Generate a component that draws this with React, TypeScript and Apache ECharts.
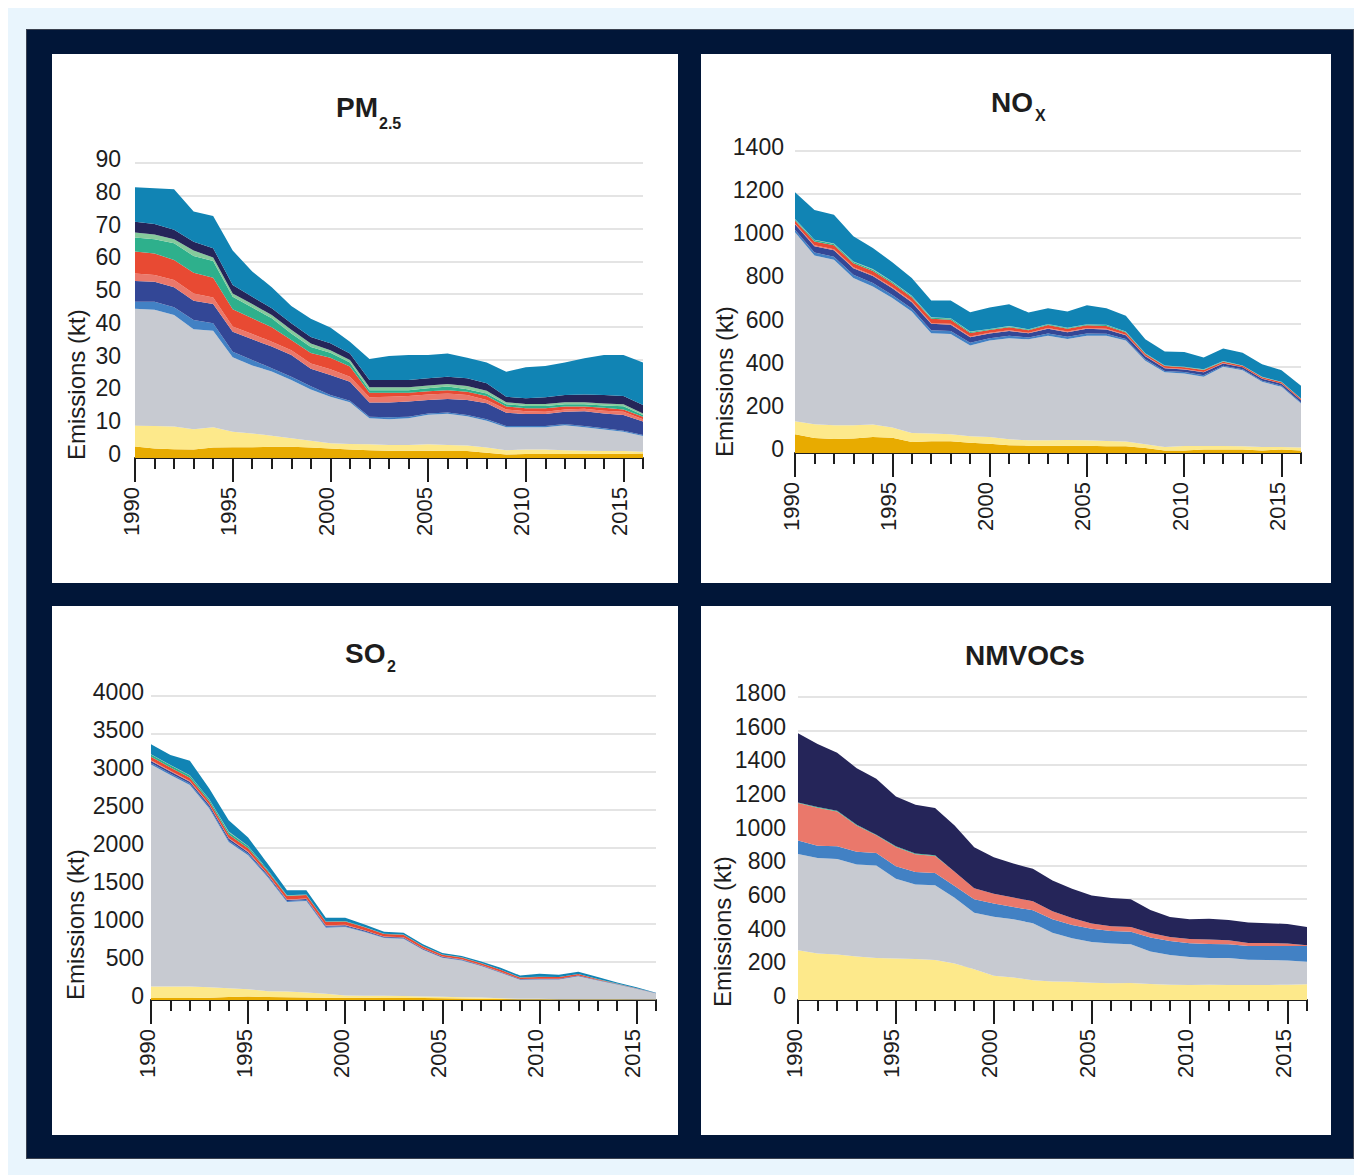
import React, { useEffect, useRef } from "react";
import * as echarts from "echarts";

const years = ["1990","1991","1992","1993","1994","1995","1996","1997","1998","1999","2000","2001","2002","2003","2004","2005","2006","2007","2008","2009","2010","2011","2012","2013","2014","2015","2016"];

const sectorNames = ["Energy production", "Energy use in industry", "Commercial & households", "Non-road transport", "Road transport", "Industrial processes", "Solvents", "Agriculture", "Waste", "Other A", "Other B"];
const sectorColors = ["#e8ab00", "#fde98b", "#c7cad1", "#4281c4", "#334796", "#ea786b", "#e84a33", "#2eb08c", "#86ca9c", "#252559", "#1184b4"];

// PM2.5 (kt)
const pmGold = [3.5,2.9,2.7,2.6,3.2,3.3,3.3,3.4,3.4,3.2,2.9,2.6,2.4,2.2,2.2,2.2,2.1,2.1,1.6,1.1,1.2,1.2,1.2,1.2,1.3,1.3,1.4];
const pmYellow = [6.4,6.9,6.9,6.2,6.2,4.7,4.2,3.4,2.6,2.1,1.6,1.7,1.8,1.8,1.8,2.0,1.9,1.7,1.6,1.3,1.4,1.4,1.2,1.0,0.8,0.8,0.5];
const pmGrey = [35.6,35.4,34.0,30.5,29.4,22.7,20.7,19.6,17.8,15.6,14.2,12.7,7.9,7.8,8.1,9.0,9.5,8.9,8.2,7.0,6.8,6.8,7.6,7.2,6.6,5.9,4.8];
const pmMBlue = [2.2,2.5,2.4,2.8,2.3,1.7,1.7,1.0,1.0,1.0,0.5,0.5,0.5,0.6,0.5,0.4,0.4,0.4,0.4,0.4,0.4,0.4,0.4,0.4,0.4,0.3,0.3];
const pmDBlue = [6.3,6.1,6.1,5.9,5.9,6.1,6.3,6.6,6.6,5.3,6.1,5.8,4.3,4.5,4.6,4.1,4.1,4.6,4.9,4.0,3.6,3.6,3.7,4.5,4.5,4.8,4.1];
const pmSalmon = [2.3,2.0,2.2,2.2,2.0,1.6,1.6,1.5,1.5,1.6,1.8,1.5,1.6,1.8,1.7,1.7,1.7,1.5,1.0,1.0,0.9,0.7,0.7,0.7,0.8,1.0,0.7];
const pmRed = [6.7,6.6,6.1,6.3,6.0,5.3,4.8,4.4,3.1,3.2,3.5,3.1,1.4,1.2,1.0,1.0,1.0,1.0,1.2,0.9,0.9,1.1,0.9,0.7,0.9,0.7,0.8];
const pmTeal = [4.3,4.3,5.1,5.1,5.1,3.8,3.3,2.7,2.0,1.9,1.5,1.2,0.8,0.8,0.8,0.9,1.1,0.8,0.8,0.7,0.7,0.7,0.7,0.7,0.7,1.0,0.5];
const pmLGreen = [1.5,1.5,1.2,1.7,1.1,1.0,1.1,1.0,1.1,1.0,0.8,0.8,0.9,0.9,0.9,0.8,0.8,1.0,0.8,0.6,0.6,0.6,0.6,0.6,0.6,0.6,0.5];
const pmNavy = [3.3,3.2,2.9,2.7,2.8,2.6,2.2,2.1,2.0,2.0,2.1,2.0,2.2,2.2,2.2,2.2,2.2,2.3,2.3,1.7,1.7,2.0,2.2,2.4,2.6,2.5,2.6];
const pmBlue = [10.5,10.9,12.4,9.2,9.8,10.5,7.7,6.4,5.3,5.6,4.8,3.6,6.4,7.3,7.6,7.1,7.1,6.3,6.3,7.6,9.5,9.6,9.9,11.0,12.2,12.5,12.9];

// NOx (kt)
const noxGold = [87,70,65,67,74,71,51,54,54,47,43,36,34,34,34,34,31,31,23,12,12,16,16,16,12,16,12];
const noxYellow = [60,63,64,62,58,47,42,36,33,31,31,28,25,25,26,25,25,22,17,16,21,17,17,15,16,12,13];
const noxGrey = [876,782,767,682,640,600,563,465,465,420,447,468,468,484,469,484,487,468,388,346,336,320,367,353,302,279,204];
const noxMBlue = [12,14,14,15,16,15,14,14,14,13,11,11,9,11,10,11,10,8,7,6,6,7,5,4,5,5,5];
const noxDBlue = [25,30,30,31,32,31,29,30,29,26,22,23,19,22,21,22,20,17,14,13,12,14,10,9,9,9,10];
const noxSalmon = [3,4,4,4,4,4,4,4,4,3,3,3,2,3,3,3,3,2,2,2,2,2,2,1,1,1,1];
const noxRed = [15,18,19,19,20,19,19,19,19,16,13,14,12,14,13,13,13,11,8,8,8,9,6,6,6,6,6];
const noxTeal = [5,6,6,6,6,6,5,5,5,5,4,4,4,4,4,4,4,3,2,2,2,2,2,1,1,1,1];
const noxLGreen = [2,2,2,2,3,2,2,2,2,2,1,2,1,1,1,1,1,1,1,1,1,1,1,1,1,1,1];
const noxNavy = [0,0,0,0,0,0,0,0,0,0,0,0,0,0,0,0,0,0,0,0,0,0,0,0,0,0,0];
const noxBlue = [124,137,134,117,97,89,82,78,82,90,99,101,77,73,75,88,77,73,65,65,68,55,58,59,59,54,59];

// SO2 (kt)
const so2Gold = [25,25,25,30,40,45,38,35,33,30,28,28,27,26,25,23,20,17,12,6,5,4,4,4,4,3,3];
const so2Yellow = [153,153,153,139,116,98,78,77,66,51,31,27,28,25,21,19,17,16,12,9,10,7,7,7,7,4,4];
const so2Grey = [2922,2782,2650,2351,1924,1762,1503,1177,1204,870,901,839,760,755,615,514,484,413,334,251,255,259,303,246,194,140,83];
const so2MBlue = [20,20,20,20,20,18,15,12,12,12,10,8,6,6,5,4,4,4,4,3,3,3,3,2,1,1,0];
const so2DBlue = [25,25,25,25,25,22,18,15,15,15,14,12,10,10,9,8,7,7,7,6,6,6,5,4,3,2,1];
const so2Salmon = [10,10,10,8,8,8,6,6,6,5,5,4,4,4,3,3,3,3,3,2,2,2,2,1,1,1,0];
const so2Red = [45,45,40,40,45,45,40,45,45,45,45,40,35,33,30,26,24,25,25,20,22,20,17,10,5,4,1];
const so2Teal = [30,28,30,25,30,25,15,8,6,5,4,3,3,3,2,2,2,2,2,2,2,1,1,1,1,1,0];
const so2LGreen = [4,5,5,5,8,4,2,3,1,0,0,0,0,0,0,0,0,0,0,0,0,0,0,0,0,0,0];
const so2Navy = [0,0,0,0,0,0,0,0,0,0,0,0,0,0,0,0,0,0,0,0,0,0,0,0,0,0,0];
const so2Blue = [130,130,190,140,150,110,80,65,55,50,45,34,26,24,22,18,17,20,25,24,40,30,29,26,15,13,2];

// NMVOCs (kt)
const vocGold = [0,0,0,0,0,0,0,0,0,0,0,0,0,0,0,0,0,0,0,0,0,0,0,0,0,0,0];
const vocYellow = [296,276,270,258,249,247,243,237,217,183,144,134,118,110,108,103,99,101,95,91,89,91,89,89,89,91,93];
const vocGrey = [572,568,568,547,550,473,443,445,390,336,351,345,338,290,259,242,236,230,193,177,167,159,160,150,148,144,134];
const vocMBlue = [79,73,75,75,75,75,75,73,70,79,79,73,77,79,79,79,75,75,83,83,81,83,82,82,84,86,94];
const vocDBlue = [0,0,0,0,0,0,0,0,0,0,0,0,0,0,0,0,0,0,0,0,0,0,0,0,0,0,0];
const vocSalmon = [223,225,207,157,104,114,105,101,85,66,57,57,53,48,41,30,28,28,27,24,26,26,24,18,18,14,4];
const vocRed = [0,0,0,0,0,0,0,0,0,0,0,0,0,0,0,0,0,0,0,0,0,0,0,0,0,0,0];
const vocTeal = [4,4,4,4,4,4,4,4,0,0,0,0,0,0,0,0,0,0,0,0,0,0,0,0,0,0,0];
const vocLGreen = [0,0,0,0,0,0,0,0,0,0,0,0,0,0,0,0,0,0,0,0,0,0,0,0,0,0,0];
const vocNavy = [410,375,345,336,332,296,290,280,274,243,217,202,193,183,174,167,168,164,137,118,116,124,120,121,117,117,109];
const vocBlue = [0,0,0,0,0,0,0,0,0,0,0,0,0,0,0,0,0,0,0,0,0,0,0,0,0,0,0];

const FONT = '"Liberation Sans", Arial, Helvetica, sans-serif';
const TEXT = "#1d1d1d";

type Spec = {
  layers: number[][];
  max: number;
  interval: number;
  grid: { left: number; right: number; top: number; bottom: number };
  labelMargin: number;
  title: string;
  titleX: number;
  titleY: number;
  sub?: string;
  subX?: number;
  subY?: number;
  nameX: number;
  nameY: number;
};

const specs: Spec[] = [
  {
    layers: [pmGold, pmYellow, pmGrey, pmMBlue, pmDBlue, pmSalmon, pmRed, pmTeal, pmLGreen, pmNavy, pmBlue],
    max: 90, interval: 10,
    grid: { left: 83, right: 35, top: 109, bottom: 125 },
    labelMargin: 14,
    title: "PM", titleX: 284, titleY: 53, sub: "2.5", subX: 327, subY: 69,
    nameX: 24, nameY: 406,
  },
  {
    layers: [noxGold, noxYellow, noxGrey, noxMBlue, noxDBlue, noxSalmon, noxRed, noxTeal, noxLGreen, noxNavy, noxBlue],
    max: 1400, interval: 200,
    grid: { left: 94, right: 30, top: 97, bottom: 130 },
    labelMargin: 11,
    title: "NO", titleX: 290, titleY: 48, sub: "X", subX: 334, subY: 61,
    nameX: 23, nameY: 403,
  },
  {
    layers: [so2Gold, so2Yellow, so2Grey, so2MBlue, so2DBlue, so2Salmon, so2Red, so2Teal, so2LGreen, so2Navy, so2Blue],
    max: 4000, interval: 500,
    grid: { left: 99, right: 22, top: 90, bottom: 135 },
    labelMargin: 7,
    title: "SO", titleX: 293, titleY: 47, sub: "2", subX: 335, subY: 60,
    nameX: 23, nameY: 394,
  },
  {
    layers: [vocGold, vocYellow, vocGrey, vocMBlue, vocDBlue, vocSalmon, vocRed, vocTeal, vocLGreen, vocNavy, vocBlue],
    max: 1800, interval: 200,
    grid: { left: 97, right: 24, top: 91, bottom: 135 },
    labelMargin: 12,
    title: "NMVOCs", titleX: 264, titleY: 49,
    nameX: 21, nameY: 401,
  },
];

function buildOption(s: Spec) {
  const graphic: any[] = [
    {
      type: "text", x: s.titleX, y: s.titleY,
      style: { text: s.title, fill: TEXT, fontSize: 28, fontWeight: "bold", fontFamily: FONT, textAlign: "left", align: "left", textVerticalAlign: "middle", verticalAlign: "middle" },
    },
    {
      type: "text", x: s.nameX, y: s.nameY, rotation: Math.PI / 2,
      style: { text: "Emissions (kt)", fill: TEXT, fontSize: 24, fontFamily: FONT, textAlign: "left", align: "left", textVerticalAlign: "middle", verticalAlign: "middle" },
    },
  ];
  if (s.sub) {
    graphic.push({
      type: "text", x: s.subX, y: s.subY,
      style: { text: s.sub, fill: TEXT, fontSize: 16, fontWeight: "bold", fontFamily: FONT, textAlign: "left", align: "left", textVerticalAlign: "middle", verticalAlign: "middle" },
    });
  }
  const tickStyle = { color: "#1d1d1d", width: 2 };
  return {
    animation: false,
    grid: s.grid,
    xAxis: [
      {
        type: "category", data: years, boundaryGap: false, position: "bottom",
        axisLine: { show: true, lineStyle: { color: "#1d1d1d", width: 2 } },
        axisTick: { show: true, interval: 0, length: 11, lineStyle: tickStyle },
        axisLabel: {
          interval: 4, rotate: 90, margin: 29, fontSize: 22, color: TEXT, fontFamily: FONT,
          verticalAlign: "bottom", lineHeight: 8,
        },
        splitLine: { show: false },
      },
      {
        type: "category", data: years, boundaryGap: false, position: "bottom",
        axisLine: { show: false },
        axisTick: { show: true, interval: 4, length: 24, lineStyle: tickStyle },
        axisLabel: { show: false },
        splitLine: { show: false },
      },
    ],
    yAxis: {
      type: "value", min: 0, max: s.max, interval: s.interval,
      axisLine: { show: false }, axisTick: { show: false },
      axisLabel: {
        fontSize: 23, color: TEXT, fontFamily: FONT, margin: s.labelMargin,
        verticalAlign: "bottom", lineHeight: 8,
        formatter: (v: number) => String(v),
      },
      splitLine: { show: true, lineStyle: { color: "#e4e4e4", width: 2 } },
    },
    series: s.layers.map((d, i) => ({
      name: sectorNames[i],
      type: "line",
      stack: "total",
      data: d,
      symbol: "none",
      showSymbol: false,
      lineStyle: { width: 0 },
      itemStyle: { color: sectorColors[i] },
      areaStyle: { color: sectorColors[i], opacity: 1 },
      silent: true,
    })),
    graphic,
  };
}

function Panel({ spec, left, top, width, height }: { spec: Spec; left: number; top: number; width: number; height: number }) {
  const ref = useRef<HTMLDivElement>(null);
  useEffect(() => {
    const chart = echarts.init(ref.current as HTMLDivElement, null, { renderer: "svg" });
    chart.setOption(buildOption(spec) as any);
    return () => chart.dispose();
  }, [spec]);
  return (
    <div style={{ position: "absolute", left, top, width, height, background: "#ffffff" }}>
      <div ref={ref} style={{ width, height }} />
    </div>
  );
}

export default function App() {
  useEffect(() => {
    const prevHtml = document.documentElement.style.overflow;
    document.documentElement.style.overflow = "hidden";
    return () => {
      document.documentElement.style.overflow = prevHtml;
    };
  }, []);
  return (
    <div style={{ position: "fixed", left: 8, top: 8, right: 0, bottom: 0, background: "#e9f5fd", overflow: "hidden" }}>
      <div style={{ position: "absolute", left: 19, top: 22, right: 1, height: 1128, background: "#011638", boxShadow: "0 0 0 1px #3b4250" }} />
      <Panel spec={specs[0]} left={44} top={46} width={626} height={529} />
      <Panel spec={specs[1]} left={693} top={46} width={630} height={529} />
      <Panel spec={specs[2]} left={44} top={598} width={626} height={529} />
      <Panel spec={specs[3]} left={693} top={598} width={630} height={529} />
    </div>
  );
}
